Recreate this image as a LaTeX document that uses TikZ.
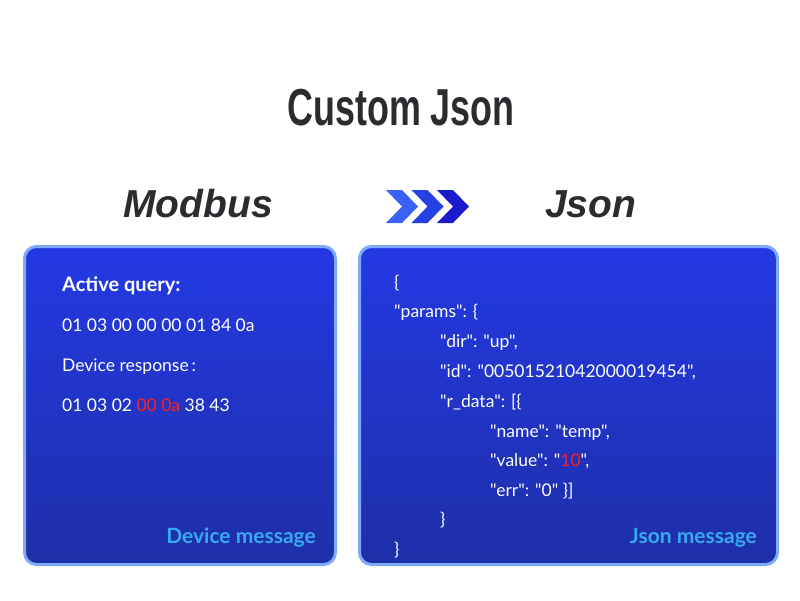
\documentclass[tikz,border=0pt]{standalone}
\usepackage{fontspec}
\newfontfamily\bodyfont{Lato}
\newfontfamily\headfont{Liberation Sans}
\definecolor{titleGray}{HTML}{2B2B30}
\definecolor{panelTop}{HTML}{2439E4}
\definecolor{panelBot}{HTML}{1E2FA8}
\definecolor{panelEdge}{HTML}{7FAAF6}
\definecolor{tagBlue}{HTML}{38A8F2}
\definecolor{hotRed}{HTML}{FF1E1E}
\definecolor{arrA}{HTML}{3A62F6}
\definecolor{arrB}{HTML}{2540E5}
\definecolor{arrC}{HTML}{1C1ACD}
\tikzset{
  panel/.style={draw=panelEdge, line width=3pt, rounded corners=12pt,
    top color=panelTop, bottom color=panelBot, inner sep=0pt},
  txt/.style={text=white, font=\bodyfont\fontsize{17.5}{20}\selectfont, anchor=base west, inner sep=0pt},
  boldtxt/.style={txt, font=\bodyfont\bfseries\fontsize{20}{22}\selectfont},
  tag/.style={text=tagBlue, font=\bodyfont\bfseries\fontsize{21}{23}\selectfont, anchor=base east, inner sep=0pt},
  head/.style={text=titleGray, font=\headfont\bfseries\itshape\fontsize{39}{42}\selectfont, anchor=base west, inner sep=0pt}
}
\begin{document}
\begin{tikzpicture}[x=1pt,y=-1pt]
    \useasboundingbox[fill=white] (0,0) rectangle (800,600);
    % titles
    \node[text=titleGray, font=\headfont\bfseries\fontsize{52}{56}\selectfont, anchor=base, inner sep=0pt]
        (title) at (401,125) {\scalebox{0.69}[1]{Custom Json}};
    \node[head] (modbus) at (123,217) {Modbus};
    \node[head] (json) at (545,217) {Json};
    % chevrons
    \foreach \i/\c in {0/arrA,1/arrB,2/arrC}
        \fill[\c, shift={(\i*25.5,0)}] (386,190) -- (402,190) -- (418,206.5) -- (402,223)
            -- (386,223) -- (402,206.5) -- cycle;
    % panels
    \node[panel, minimum width=311pt, minimum height=318pt] (modbox) at (180,405.5) {};
    \node[panel, minimum width=418pt, minimum height=318pt] (jsonbox) at (568.5,405.5) {};
    % modbus side
    \node[boldtxt] (query) at (62,291) {Active query:};
    \node[txt] (qbytes) at (62,331) {01 03 00 00 00 01 84 0a};
    \node[txt] (resp) at (62,371) {Device response\,:};
    \node[txt] (rbytes) at (62,411) {01 03 02 \textcolor{hotRed}{00 0a} 38 43};
    \node[tag] (devmsg) at (316,543) {Device message};
    % json side
    \node[txt] (j1) at (394,288) {\{};
    \node[txt] (j2) at (394,317.5) {"params": \{};
    \node[txt] (j3) at (440,347) {"dir": "up",};
    \node[txt] (j4) at (440,377) {"id": "00501521042000019454",};
    \node[txt] (j5) at (440,407) {"r\_data": [\{};
    \node[txt] (j6) at (490,437) {"name": "temp",};
    \node[txt] (j7) at (490,466) {"value": "\textcolor{hotRed}{10}",};
    \node[txt] (j8) at (490,496) {"err": "0" \}]};
    \node[txt] (j9) at (440,525) {\}};
    \node[txt] (j10) at (394,555) {\}};
    \node[tag] (jsonmsg) at (757,543) {Json message};
\end{tikzpicture}
\end{document}
